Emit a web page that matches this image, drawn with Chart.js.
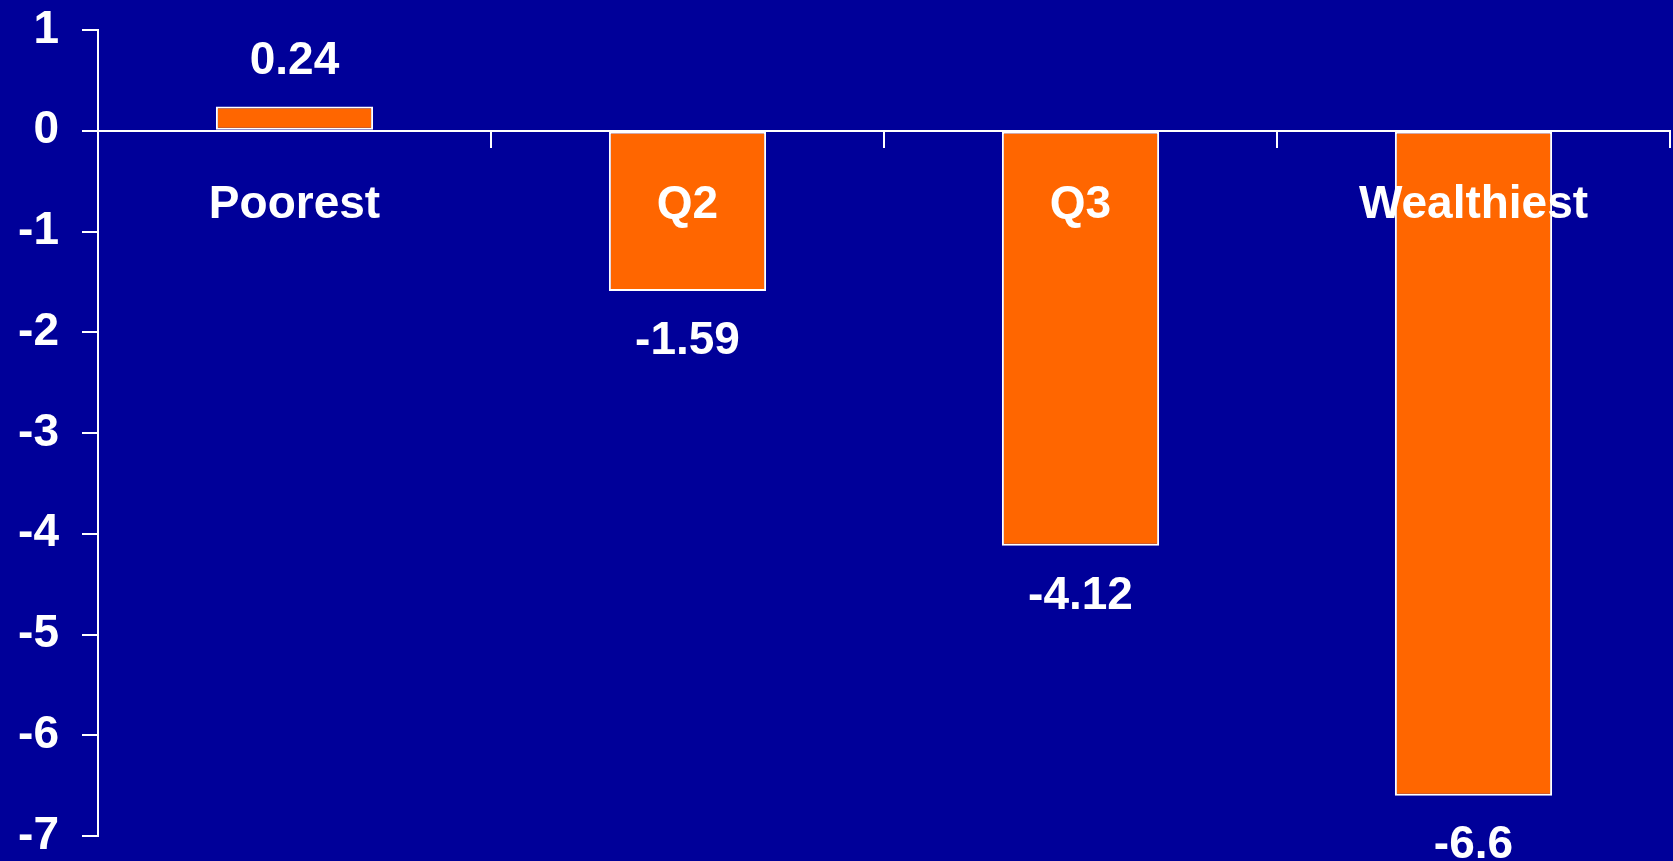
<!DOCTYPE html>
<html>
<head>
<meta charset="utf-8">
<title>Change by wealth quintile</title>
<script src="https://cdn.jsdelivr.net/npm/chart.js@4.4.1/dist/chart.umd.min.js"></script>
<style>
  html, body { margin: 0; padding: 0; background: #000099; }
  #wrap { width: 1673px; height: 861px; position: relative; }
</style>
</head>
<body>
<div id="wrap"><canvas id="quintileChart"></canvas></div>
<script>
const categories = ["Poorest", "Q2", "Q3", "Wealthiest"];
const changes = [0.24, -1.59, -4.12, -6.6];
const yTickValues = [1, 0, -1, -2, -3, -4, -5, -6, -7];

const FONT = "'Liberation Sans', Arial, Helvetica, sans-serif";
const WHITE = "#ffffff";

// value labels sit just past the end of each bar
const barValueLabels = {
  id: "barValueLabels",
  afterDatasetsDraw(chart) {
    const { ctx } = chart;
    const meta = chart.getDatasetMeta(0);
    ctx.save();
    ctx.fillStyle = WHITE;
    ctx.font = "bold 46px " + FONT;
    ctx.textAlign = "center";
    ctx.textBaseline = "middle";
    meta.data.forEach((bar, i) => {
      const v = changes[i];
      const y = v >= 0 ? bar.y - 45 : bar.y + 50;
      ctx.fillText(String(v), bar.x, y);
    });
    ctx.restore();
  }
};

const ctx = document.getElementById("quintileChart");

new Chart(ctx, {
  type: "bar",
  data: {
    labels: categories,
    datasets: [{
      data: changes,
      backgroundColor: "#ff6600",
      borderColor: WHITE,
      borderWidth: 2,
      borderSkipped: false,
      barPercentage: 0.4,
      categoryPercentage: 1.0,
    }]
  },
  options: {
    responsive: true,
    maintainAspectRatio: false,
    animation: false,
    events: [],
    layout: { padding: { top: 30, bottom: 25, left: 0, right: 3 } },
    plugins: {
      legend: { display: false },
      tooltip: { enabled: false },
    },
    scales: {
      x: {
        position: { y: 0 },
        // sits on the zero line, so it takes no room in the layout
        afterFit: (s) => {
          s.height = 0;
          s.paddingLeft = 0;
          s.paddingRight = 0;
        },
        grid: {
          offset: true,
          drawOnChartArea: false,
          drawTicks: true,
          tickLength: 16,
          color: WHITE,
          lineWidth: 2,
        },
        border: { display: true, color: WHITE, width: 2, z: 1 },
        ticks: {
          z: 1,
          color: WHITE,
          padding: 31,
          maxRotation: 0,
          autoSkip: false,
          font: { family: FONT, size: 46, weight: "bold" },
        },
      },
      y: {
        min: -7,
        max: 1,
        afterFit: (s) => {
          s.width = 98;
          s.paddingTop = 0;
          s.paddingBottom = 0;
        },
        afterBuildTicks: (s) => { s.ticks = yTickValues.map(v => ({ value: v })); },
        grid: {
          drawOnChartArea: false,
          drawTicks: true,
          tickLength: 16,
          color: WHITE,
          lineWidth: 2,
        },
        border: { display: true, color: WHITE, width: 2 },
        ticks: {
          color: WHITE,
          padding: 23,
          font: { family: FONT, size: 46, weight: "bold", lineHeight: 1 },
          callback: (v) => String(v),
        },
      },
    },
  },
  plugins: [barValueLabels],
});
</script>
</body>
</html>
